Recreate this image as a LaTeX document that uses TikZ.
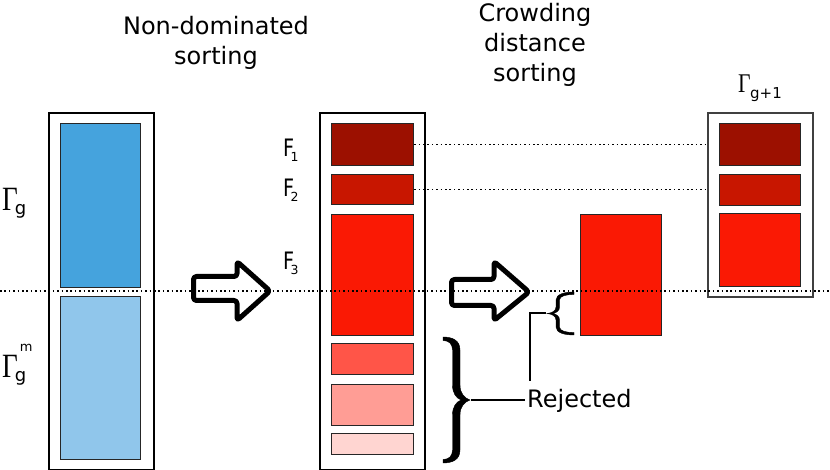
\documentclass[tikz,border=0pt]{standalone}
\usepackage{fontspec}
\setmainfont{DejaVu Sans}
\newfontfamily\gammafont{Liberation Serif}
\definecolor{blueA}{HTML}{45A3DD}
\definecolor{blueB}{HTML}{90C6EB}
\definecolor{redA}{HTML}{9C1000}
\definecolor{redB}{HTML}{C81600}
\definecolor{redC}{HTML}{FA1904}
\definecolor{redD}{HTML}{FF5548}
\definecolor{redE}{HTML}{FF9D95}
\definecolor{redF}{HTML}{FFD5D1}
\newcommand{\bigG}[1]{{\gammafont\fontsize{#1}{#1}\selectfont\scalebox{0.8}[1]{Γ}}}
\begin{document}
\begin{tikzpicture}[x=1pt,y=-1pt,
  outerbox/.style={draw=black, line width=1.6pt, inner sep=0pt, anchor=north west},
  cell/.style={draw=black!85, line width=1.2pt, inner sep=0pt, anchor=north west},
  dotline/.style={line width=1.8pt, dash pattern=on 1.6pt off 2.8pt},
  bigarrow/.style={draw, fill=white, line width=5pt, rounded corners=3pt, line join=round},
  title/.style={font=\fontsize{24}{30}\selectfont, align=center, inner sep=0pt},
  flabel/.style={font=\fontsize{24}{24}\selectfont, inner sep=0pt, anchor=base west},
  glabel/.style={inner sep=0pt, anchor=base west},
  bracefill/.style={fill=black, draw=black, line width=0.4pt},
  leader/.style={line width=1.2pt}]
\useasboundingbox (0,0) rectangle (830,470);

% titles
\node[title, anchor=north] (t1) at (216,16) {Non-dominated\\sorting};
\node[title, anchor=north] (t2) at (535,3) {Crowding\\distance\\sorting};

% left column
\node[outerbox, minimum width=105pt, minimum height=356pt] (lbox) at (48,112.5) {};
\node[cell, fill=blueA, minimum width=80pt, minimum height=164pt] (lb1) at (60,123) {};
\node[cell, fill=blueB, minimum width=80pt, minimum height=163pt] (lb2) at (60,296) {};

\node[glabel] (g1) at (2,211) {\bigG{34}\kern-3pt\raisebox{-4pt}{\fontsize{18}{18}\selectfont g}};
\node[glabel] (g2) at (2,377) {\bigG{34}\kern-3pt\rlap{\kern5pt\raisebox{25pt}{\fontsize{13}{13}\selectfont m}}\raisebox{-4pt}{\fontsize{18}{18}\selectfont g}};

% middle column
\node[outerbox, minimum width=105pt, minimum height=356pt] (mbox) at (319,112.5) {};
\node[cell, fill=redA, minimum width=82pt, minimum height=42pt] (mf1) at (331,123) {};
\node[cell, fill=redB, minimum width=82pt, minimum height=30pt] (mf2) at (331,174) {};
\node[cell, fill=redC, minimum width=82pt, minimum height=121pt] (mf3) at (331,214) {};
\node[cell, fill=redD, minimum width=82pt, minimum height=31pt] (mr1) at (331,343) {};
\node[cell, fill=redE, minimum width=82pt, minimum height=41pt] (mr2) at (331,384) {};
\node[cell, fill=redF, minimum width=82pt, minimum height=21pt] (mr3) at (331,433) {};

\node[flabel] (fl1) at (283,157) {\scalebox{0.8}[1]{F}\kern-3.5pt\raisebox{-5pt}{\fontsize{12.5}{12.5}\selectfont 1}};
\node[flabel] (fl2) at (283,197) {\scalebox{0.8}[1]{F}\kern-3.5pt\raisebox{-5pt}{\fontsize{12.5}{12.5}\selectfont 2}};
\node[flabel] (fl3) at (283,270) {\scalebox{0.8}[1]{F}\kern-3.5pt\raisebox{-5pt}{\fontsize{12.5}{12.5}\selectfont 3}};

% isolated front
\node[cell, fill=redC, minimum width=81pt, minimum height=121pt] (sf3) at (580,214) {};

% right column
\node[outerbox, draw=black!75, minimum width=105pt, minimum height=184pt] (rbox) at (707,112) {};
\node[cell, fill=redA, minimum width=81pt, minimum height=42pt] (rf1) at (719,123) {};
\node[cell, fill=redB, minimum width=81pt, minimum height=31pt] (rf2) at (719,174) {};
\node[cell, fill=redC, minimum width=81pt, minimum height=73pt] (rf3) at (719,213) {};
\node[glabel] (g3) at (738,93) {\bigG{27}\kern-0.5pt\raisebox{-6pt}{\fontsize{15}{15}\selectfont g+1}};

% arrows
\draw[bigarrow] (193.5,276.5) -- (237,276.5) -- (237,261.5) -- (270,291) -- (237,320.5) -- (237,300.5) -- (193.5,300.5) -- cycle;
\draw[bigarrow] (451.5,279.5) -- (494,279.5) -- (494,261.5) -- (529,292) -- (494,320.5) -- (494,305.5) -- (451.5,305.5) -- cycle;

% big brace (right-pointing)
\fill[bracefill] (443,337) .. controls (452,337) and (460,340) .. (460,350) -- (460,385)
  .. controls (460,393) and (464,398) .. (470,400)
  .. controls (464,402) and (460,407) .. (460,415) -- (460,450)
  .. controls (460,460) and (452,463) .. (443,463) -- (443,459.5)
  .. controls (449,459.5) and (452.5,456) .. (452.5,450) -- (452.5,415)
  .. controls (452.5,407) and (456,402) .. (461,400)
  .. controls (456,398) and (452.5,393) .. (452.5,385) -- (452.5,350)
  .. controls (452.5,344) and (449,340.5) .. (443,340.5) -- cycle;
% small brace (left-pointing)
\fill[bracefill] (574,292) .. controls (565,292) and (556,294) .. (556,300) -- (556,307)
  .. controls (556,311) and (552,313) .. (547,313.5)
  .. controls (552,314) and (556,316) .. (556,320) -- (556,327)
  .. controls (556,333) and (565,335) .. (574,335) -- (574,332.5)
  .. controls (566,332.5) and (559.5,331) .. (559.5,327) -- (559.5,320)
  .. controls (559.5,316.5) and (557,314.5) .. (553,313.5)
  .. controls (557,312.5) and (559.5,310.5) .. (559.5,307) -- (559.5,300)
  .. controls (559.5,296) and (566,294.5) .. (574,294.5) -- cycle;

\coordinate (bbtip) at (471,400);
\coordinate (sbtip) at (546,313);
\node[font=\fontsize{24}{24}\selectfont, anchor=base west, inner sep=2pt] (rej) at (525,407) {Rejected};
\draw[leader] (bbtip) -- (bbtip -| rej.west);
\draw[leader] (sbtip) -| ([xshift=5pt,yshift=6pt]rej.north west);

% dotted lines
\draw[dotline] (mf1.east) -- (mf1.east -| rbox.west);
\draw[dotline] (mf2.east) -- (mf2.east -| rbox.west);
\coordinate (dl) at (0,291);
\coordinate (dr) at (830,291);
\draw[dotline] (dl) -- (dr);
\end{tikzpicture}
\end{document}
